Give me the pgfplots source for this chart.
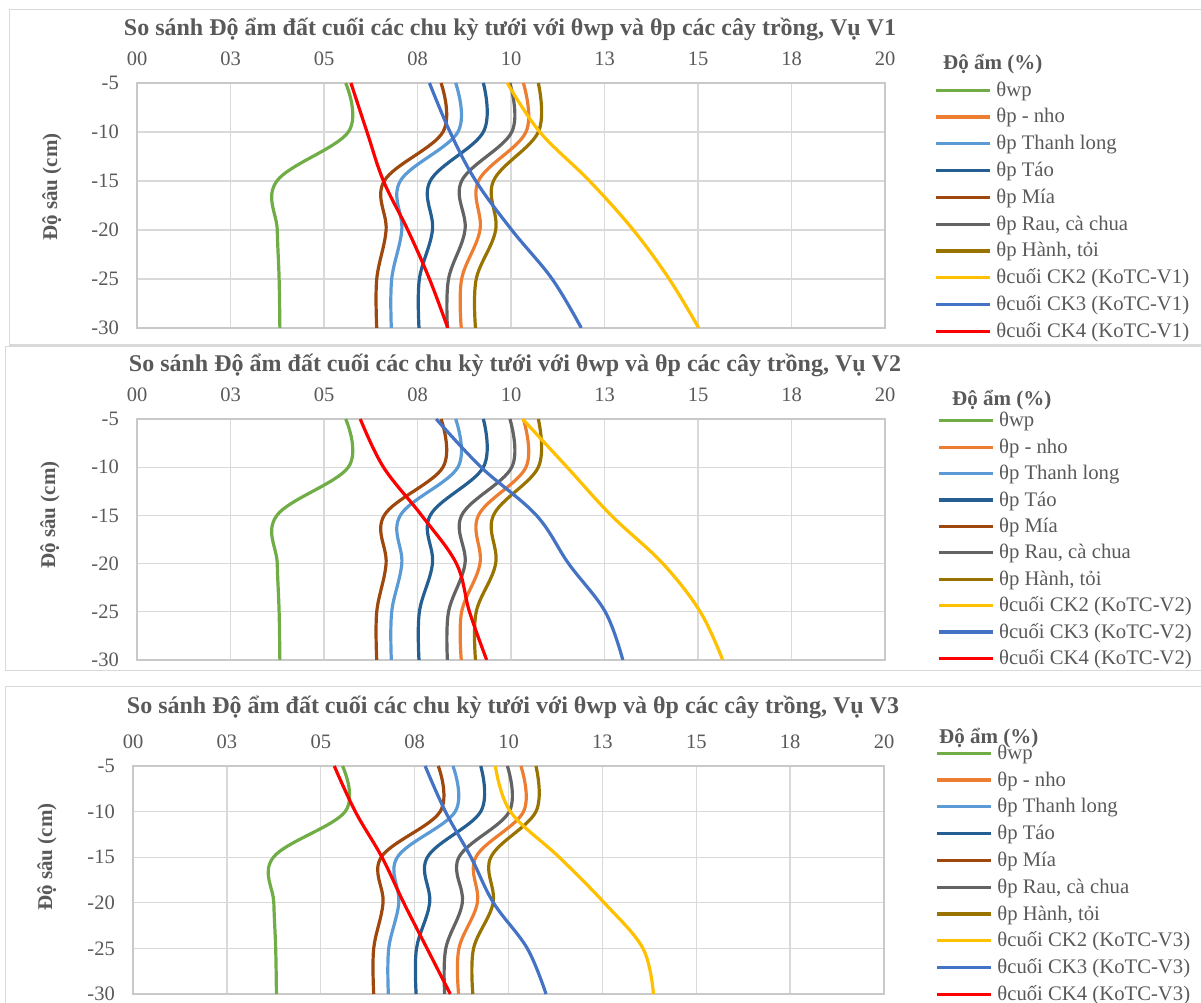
\documentclass[border=0pt]{standalone}
\usepackage{fontspec}
\setmainfont{Liberation Serif}
\usepackage{pgfplots}
\usepackage{pgfplotstable}
\pgfplotsset{compat=1.18}

\definecolor{txt}{HTML}{595959}
\definecolor{gridc}{HTML}{D9D9D9}
\definecolor{axisc}{HTML}{C9C9C9}
\definecolor{cWP}{HTML}{70AD47}
\definecolor{cNho}{HTML}{ED7D31}
\definecolor{cTL}{HTML}{5B9BD5}
\definecolor{cTao}{HTML}{255E91}
\definecolor{cMia}{HTML}{9E480E}
\definecolor{cRau}{HTML}{636363}
\definecolor{cHanh}{HTML}{997300}
\definecolor{cCKa}{HTML}{FFC000}
\definecolor{cCKb}{HTML}{4472C4}
\definecolor{cCKc}{HTML}{FF0000}

\newcommand{\fs}[1]{\fontsize{#1}{#1}\selectfont}

% wilting point and crop thresholds (same soil, all seasons)
\pgfplotstableread{
d    wp    nho    TL    Tao   Mia   Rau    Hanh
-5   5.58  10.33  8.52  9.26  8.13  9.97   10.73
-10  5.65  10.40  8.58  9.26  8.18  10.02  10.73
-15  3.74  9.13   7.04  7.84  6.61  8.68   9.53
-20  3.75  9.17   7.08  7.90  6.66  8.77   9.59
-25  3.80  8.68   6.81  7.55  6.41  8.33   9.07
-30  3.82  8.67   6.80  7.54  6.41  8.30   9.05
}\crops

% end-of-cycle moisture, season V1
\pgfplotstableread{
d    CKa    CKb    CKc
-5   9.90   7.82   5.72
-10  10.77  8.37   6.15
-15  12.10  9.06   6.59
-20  13.27  10.02  7.24
-25  14.23  11.10  7.82
-30  15.02  11.88  8.31
}\vone

% end-of-cycle moisture, season V2
\pgfplotstableread{
d    CKa    CKb    CKc
-5   10.31  8.00   5.97
-10  11.50  9.20   6.59
-15  12.68  10.68  7.61
-20  14.06  11.54  8.54
-25  15.06  12.52  8.89
-30  15.66  12.99  9.35
}\vtwo

% end-of-cycle moisture, season V3
\pgfplotstableread{
d    CKa    CKb    CKc
-5   9.65   7.78   5.36
-10  10.05  8.32   5.92
-15  11.35  9.00   6.63
-20  12.55  9.60   7.21
-25  13.58  10.50  7.83
-30  13.86  11.00  8.45
}\vthree

\pgfplotsset{
  cv/.style={line width=3.2pt, smooth, tension=0.6, line join=round},
  moistpanel/.style={
    scale only axis, anchor=south west,
    xmin=0, xmax=20, ymin=-30, ymax=-5,
    xtick={0,2.5,...,20}, xticklabels={00,03,05,08,10,13,15,18,20},
    ytick={-30,-25,-20,-15,-10,-5}, yticklabels={-30,-25,-20,-15,-10,-5},
    xticklabel pos=upper,
    major tick length=0pt,
    grid=major,
    major grid style={draw=gridc, line width=1.3pt},
    axis line style={draw=axisc, line width=1.3pt},
    tick label style={font=\fs{20.5}, text=txt},
    x tick label style={anchor=base, inner sep=0pt, yshift=17pt},
    y tick label style={anchor=east, inner sep=0pt, xshift=-18pt},
    no markers,
    legend image code/.code={\draw[##1, line width=3.2pt] (0pt,0pt) -- (54pt,0pt);},
    legend cell align=left,
    legend style={draw=none, fill=none, inner sep=0pt, anchor=north west,
      font=\fs{20.7}, text=txt, column sep=5pt,
      nodes={inner sep=0pt, text height=16pt, text depth=4pt}},
  },
}

\newcommand{\cropplots}{%
  \addplot[cWP, cv] table[x=wp, y=d] {\crops}; \addlegendentry{θwp}
  \addplot[cNho, cv] table[x=nho, y=d] {\crops}; \addlegendentry{θp - nho}
  \addplot[cTL, cv] table[x=TL, y=d] {\crops}; \addlegendentry{θp Thanh long}
  \addplot[cTao, cv] table[x=Tao, y=d] {\crops}; \addlegendentry{θp Táo}
  \addplot[cMia, cv] table[x=Mia, y=d] {\crops}; \addlegendentry{θp Mía}
  \addplot[cRau, cv] table[x=Rau, y=d] {\crops}; \addlegendentry{θp Rau, cà chua}
  \addplot[cHanh, cv] table[x=Hanh, y=d] {\crops}; \addlegendentry{θp Hành, tỏi}
}

\begin{document}
\begin{tikzpicture}
\useasboundingbox (0pt,0pt) rectangle (1201pt,1003pt);
\clip (0pt,0pt) rectangle (1201pt,1003pt);

% chart area frames
\draw[gridc, line width=1.3pt] (9.6pt,658pt) rectangle (1215pt,993.7pt);
\draw[gridc, line width=1.3pt] (5.4pt,332.3pt) rectangle (1215pt,656.3pt);
\draw[gridc, line width=1.3pt] (5.4pt,-8pt) rectangle (1215pt,316.3pt);

% ---- season V1
\begin{axis}[moistpanel, at={(137pt,675pt)}, width=748pt, height=245pt,
  legend style={at={(axis description cs:1.06551,1.01224)}, row sep=6.8pt}]
\cropplots
\addplot[cCKa, cv] table[x=CKa, y=d] {\vone}; \addlegendentry{θcuối CK2 (KoTC-V1)}
\addplot[cCKb, cv] table[x=CKb, y=d] {\vone}; \addlegendentry{θcuối CK3 (KoTC-V1)}
\addplot[cCKc, cv] table[x=CKc, y=d] {\vone}; \addlegendentry{θcuối CK4 (KoTC-V1)}
\end{axis}

% ---- season V2
\begin{axis}[moistpanel, at={(137pt,343pt)}, width=748pt, height=241pt,
  legend style={at={(axis description cs:1.06912,1.03444)}, row sep=6.4pt}]
\cropplots
\addplot[cCKa, cv] table[x=CKa, y=d] {\vtwo}; \addlegendentry{θcuối CK2 (KoTC-V2)}
\addplot[cCKb, cv] table[x=CKb, y=d] {\vtwo}; \addlegendentry{θcuối CK3 (KoTC-V2)}
\addplot[cCKc, cv] table[x=CKc, y=d] {\vtwo}; \addlegendentry{θcuối CK4 (KoTC-V2)}
\end{axis}

% ---- season V3
\begin{axis}[moistpanel, at={(133pt,9pt)}, width=751pt, height=228pt,
  legend style={at={(axis description cs:1.06791,1.10088)}, row sep=6.8pt}]
\cropplots
\addplot[cCKa, cv] table[x=CKa, y=d] {\vthree}; \addlegendentry{θcuối CK2 (KoTC-V3)}
\addplot[cCKb, cv] table[x=CKb, y=d] {\vthree}; \addlegendentry{θcuối CK3 (KoTC-V3)}
\addplot[cCKc, cv] table[x=CKc, y=d] {\vthree}; \addlegendentry{θcuối CK4 (KoTC-V3)}
\end{axis}

% titles
\begin{scope}[every node/.style={text=txt}]
\node[anchor=base, font=\bfseries\fs{24}] at (510pt,967pt) {So sánh Độ ẩm đất cuối các chu kỳ tưới với θwp và θp các cây trồng, Vụ V1};
\node[anchor=base, font=\bfseries\fs{24}] at (515pt,631.3pt) {So sánh Độ ẩm đất cuối các chu kỳ tưới với θwp và θp các cây trồng, Vụ V2};
\node[anchor=base, font=\bfseries\fs{24}] at (513pt,289.7pt) {So sánh Độ ẩm đất cuối các chu kỳ tưới với θwp và θp các cây trồng, Vụ V3};
% depth axis labels
\node[rotate=90, font=\bfseries\fs{21}] at (52pt,816pt) {Độ sâu (cm)};
\node[rotate=90, font=\bfseries\fs{21}] at (50pt,488pt) {Độ sâu (cm)};
\node[rotate=90, font=\bfseries\fs{21}] at (47pt,146pt) {Độ sâu (cm)};
% legend headings
\node[anchor=base west, inner sep=0pt, font=\bfseries\fs{21}] at (943pt,933.5pt) {Độ ẩm (\%)};
\node[anchor=base west, inner sep=0pt, font=\bfseries\fs{21}] at (952pt,597pt) {Độ ẩm (\%)};
\node[anchor=base west, inner sep=0pt, font=\bfseries\fs{21}] at (939pt,259pt) {Độ ẩm (\%)};
\end{scope}
\end{tikzpicture}
\end{document}
